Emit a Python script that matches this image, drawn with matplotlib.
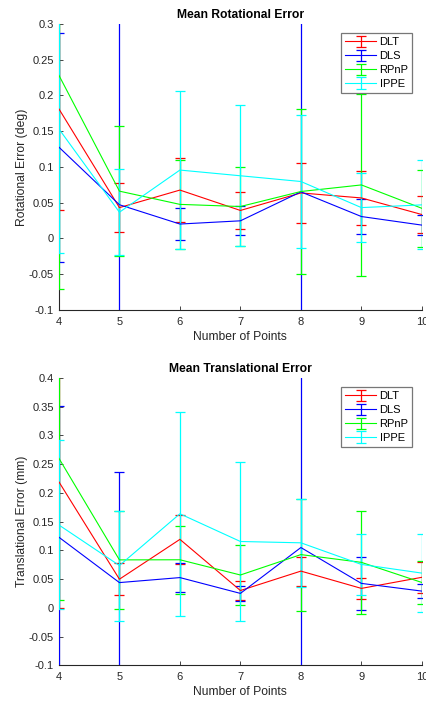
import numpy as np
import matplotlib
matplotlib.use("Agg")
import matplotlib.pyplot as plt

plt.rcParams['font.family'] = ['Liberation Sans', 'DejaVu Sans']

points = [4, 5, 6, 7, 8, 9, 10]
methods = ["DLT", "DLS", "RPnP", "IPPE"]
colors = ["#ff0000", "#0000ff", "#00ff00", "#00ffff"]

# Rotational error (deg): means and standard deviations
rot_mean_dlt = [0.181, 0.043, 0.0675, 0.039, 0.0635, 0.0565, 0.0333]
rot_std_dlt = [0.142, 0.034, 0.0445, 0.026, 0.0415, 0.0375, 0.0258]
rot_mean_dls = [0.1275, 0.047, 0.020, 0.0245, 0.065, 0.0305, 0.0185]
rot_std_dls = [0.160, 0.45, 0.022, 0.0205, 0.45, 0.025, 0.0143]
rot_mean_rpnp = [0.228, 0.066, 0.0475, 0.0445, 0.0655, 0.0747, 0.042]
rot_std_rpnp = [0.299, 0.091, 0.0625, 0.0555, 0.1155, 0.1275, 0.0537]
rot_mean_ippe = [0.153, 0.0365, 0.0955, 0.0875, 0.0795, 0.043, 0.0468]
rot_std_ippe = [0.174, 0.060, 0.1105, 0.0985, 0.0935, 0.048, 0.0622]

# Translational error (mm): means and standard deviations
tr_mean_dlt = [0.219, 0.0497, 0.119, 0.030, 0.0638, 0.0337, 0.053]
tr_std_dlt = [0.219, 0.0278, 0.042, 0.017, 0.0252, 0.018, 0.027]
tr_mean_dls = [0.1227, 0.0438, 0.0525, 0.025, 0.1048, 0.0424, 0.029]
tr_std_dls = [0.229, 0.1926, 0.0255, 0.0125, 0.50, 0.046, 0.0125]
tr_mean_rpnp = [0.260, 0.0833, 0.0835, 0.057, 0.0925, 0.079, 0.044]
tr_std_rpnp = [0.247, 0.0858, 0.0595, 0.053, 0.0975, 0.0898, 0.0375]
tr_mean_ippe = [0.144, 0.0735, 0.1635, 0.1153, 0.113, 0.0754, 0.0603]
tr_std_ippe = [0.147, 0.0957, 0.1777, 0.139, 0.077, 0.0536, 0.068]

rot_means = [rot_mean_dlt, rot_mean_dls, rot_mean_rpnp, rot_mean_ippe]
rot_stds = [rot_std_dlt, rot_std_dls, rot_std_rpnp, rot_std_ippe]
tr_means = [tr_mean_dlt, tr_mean_dls, tr_mean_rpnp, tr_mean_ippe]
tr_stds = [tr_std_dlt, tr_std_dls, tr_std_rpnp, tr_std_ippe]

rot_yticks = [-0.1, -0.05, 0, 0.05, 0.1, 0.15, 0.2, 0.25, 0.3]
tr_yticks = [-0.1, -0.05, 0, 0.05, 0.1, 0.15, 0.2, 0.25, 0.3, 0.35, 0.4]

fig = plt.figure(figsize=(4.27, 7.01), dpi=100)
ax1 = fig.add_axes([0.138, 0.558, 0.850, 0.408])
ax2 = fig.add_axes([0.138, 0.051, 0.850, 0.410])

dark = "#262626"

def style(ax, means, stds, yticks, ylim, title, ylabel):
    for m, s, c, name in zip(means, stds, colors, methods):
        ax.errorbar(points, m, yerr=s, color=c, lw=0.8, elinewidth=0.9,
                    capsize=3.5, capthick=0.9, label=name, zorder=3)
    ax.set_xlim(4, 10)
    ax.set_ylim(*ylim)
    ax.set_xticks(points)
    ax.set_yticks(yticks)
    ax.set_yticklabels(["%g" % t for t in yticks])
    for sp in ["top", "right"]:
        ax.spines[sp].set_visible(False)
    for sp in ["left", "bottom"]:
        ax.spines[sp].set_color(dark)
        ax.spines[sp].set_linewidth(0.8)
    ax.tick_params(direction="in", length=3, width=0.6, colors=dark,
                   labelsize=8, labelcolor=dark)
    ax.tick_params(axis="x", pad=5)
    ax.set_title(title, fontsize=8.7, fontweight="bold", pad=4)
    ax.set_xlabel("Number of Points", fontsize=8.7, color=dark, labelpad=3)
    ax.set_ylabel(ylabel, fontsize=8.7, color=dark, labelpad=1)
    leg = ax.legend(loc="upper right", fontsize=8, frameon=True, fancybox=False,
                    borderpad=0.35, labelspacing=0.35, handlelength=2.8,
                    handletextpad=0.3, borderaxespad=0.85)
    leg.get_frame().set_edgecolor("#555555")
    leg.get_frame().set_linewidth(0.9)

style(ax1, rot_means, rot_stds, rot_yticks, (-0.1, 0.3),
      "Mean Rotational Error", "Rotational Error (deg)")
style(ax2, tr_means, tr_stds, tr_yticks, (-0.1, 0.4),
      "Mean Translational Error", "Translational Error (mm)")

fig.savefig("out.png", dpi=100)
